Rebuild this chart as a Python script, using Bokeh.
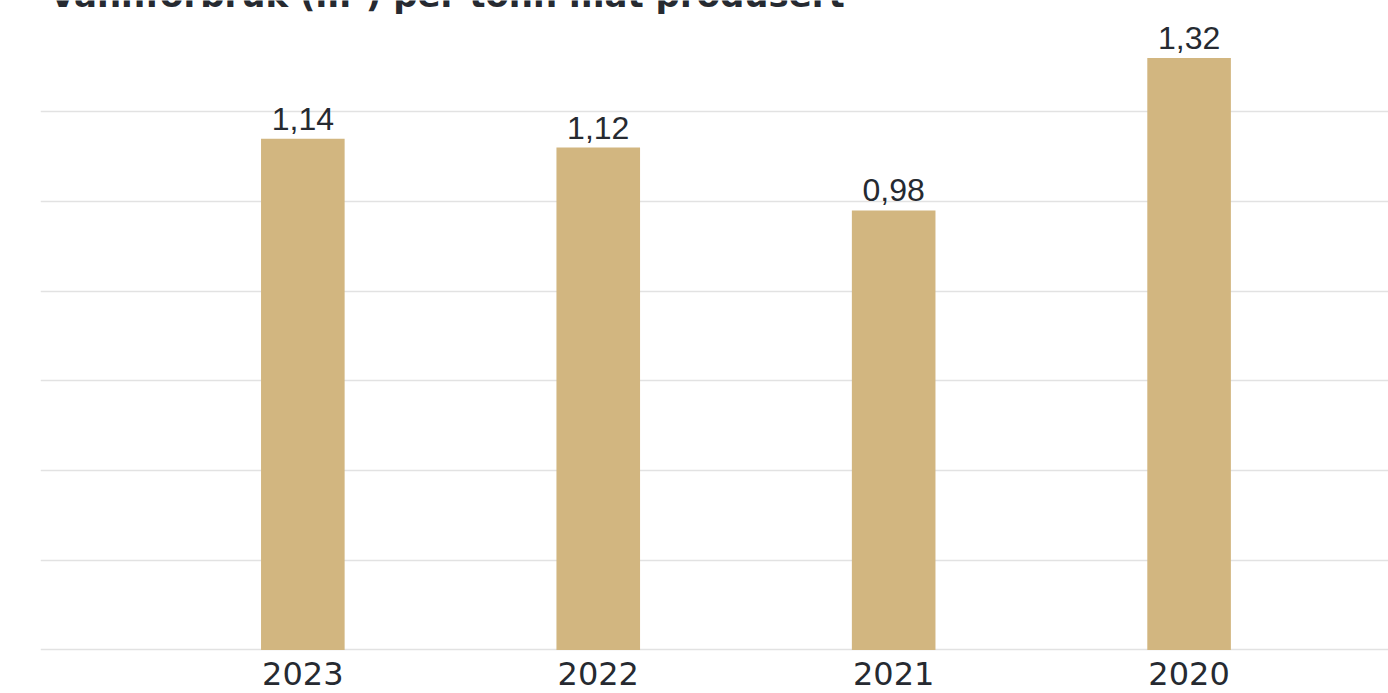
from bokeh.plotting import figure
from bokeh.models import Range1d, FixedTicker, Label, ColumnDataSource
from bokeh.core.properties import value
from bokeh.embed import file_html
from bokeh.resources import INLINE

# ---- data ----
years = ["2023", "2022", "2021", "2020"]
water_use = [1.14, 1.12, 0.98, 1.32]
value_labels = ["1,14", "1,12", "0,98", "1,32"]
grid_ticks = [0, 0.2, 0.4, 0.6, 0.8, 1.0, 1.2]
title_text = "Vannforbruk (m³) per tonn mat produsert"

BAR = "#D2B680"
TXT = "#262a31"
GRID = "#e2e2e2"

idx = list(range(len(years)))
src = ColumnDataSource(dict(x=idx, top=water_use, lab=value_labels, yr=years,
                            base=[0] * len(years)))

p = figure(width=1388, height=693, output_backend="svg", toolbar_location=None,
           x_range=Range1d(-0.888, 3.675), y_range=Range1d(-0.097, 1.448),
           min_border_left=40, min_border_right=0, min_border_top=0, min_border_bottom=0)
p.outline_line_color = None
p.background_fill_color = "white"
p.border_fill_color = "white"

p.xaxis.visible = False
p.yaxis.visible = False
p.xgrid.visible = False
p.ygrid.ticker = FixedTicker(ticks=grid_ticks)
p.ygrid.grid_line_color = GRID
p.ygrid.grid_line_width = 1.5

p.vbar(x="x", top="top", width=0.283, bottom=0, source=src, color=BAR, line_color=None)

# value labels above bars
p.text(x="x", y="top", text="lab", source=src, text_align="center", text_baseline="alphabetic",
       y_offset=-20, text_font=value("Liberation Sans"), text_font_size="32px", text_color=TXT)

# category labels below baseline
p.text(x="x", y="base", text="yr", source=src, text_align="center", text_baseline="alphabetic",
       y_offset=24, text_font=value("DejaVu Sans"), text_font_size="32px", text_color=TXT)

title = Label(x=9, y=698.8, x_units="screen", y_units="screen", text=title_text,
              text_font="DejaVu Sans", text_font_style="bold", text_font_size="34px",
              text_color=TXT, text_baseline="alphabetic")
p.add_layout(title)

open("out.html", "w").write(file_html(p, INLINE))
